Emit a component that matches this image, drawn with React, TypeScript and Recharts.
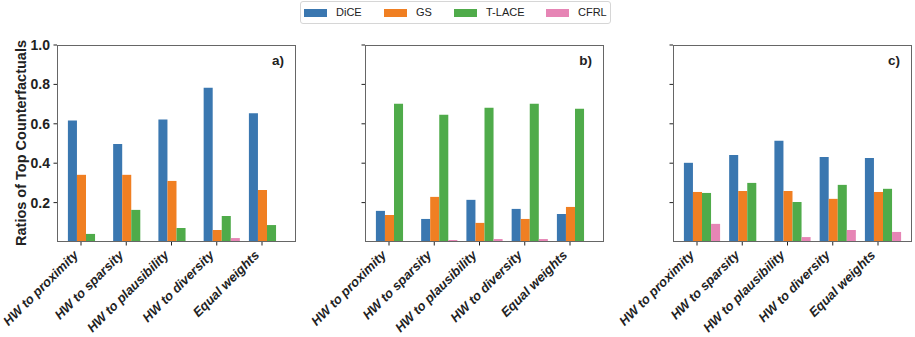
import React from "react";
import { Bar, BarChart, XAxis, YAxis } from "recharts";

const categories = ["HW to proximity", "HW to sparsity", "HW to plausibility", "HW to diversity", "Equal weights"];
const methods = ["DiCE", "GS", "T-LACE", "CFRL"];
const colors = ["#3a77b0", "#f07f22", "#4fab4a", "#e685b5"];
const yTicks = [0.2, 0.4, 0.6, 0.8, 1.0];

// panel a)
const diceA = [0.617, 0.498, 0.622, 0.783, 0.653];
const gsA = [0.341, 0.341, 0.31, 0.061, 0.264];
const tlaceA = [0.041, 0.163, 0.071, 0.132, 0.086];
const cfrlA = [0.003, 0.002, 0.002, 0.02, 0.002];

// panel b)
const diceB = [0.158, 0.117, 0.214, 0.168, 0.142];
const gsB = [0.137, 0.229, 0.097, 0.117, 0.178];
const tlaceB = [0.702, 0.646, 0.681, 0.702, 0.676];
const cfrlB = [0.003, 0.01, 0.015, 0.015, 0.003];

// panel c)
const diceC = [0.402, 0.442, 0.514, 0.432, 0.427];
const gsC = [0.254, 0.259, 0.259, 0.219, 0.254];
const tlaceC = [0.249, 0.3, 0.203, 0.29, 0.27];
const cfrlC = [0.092, 0.003, 0.025, 0.061, 0.051];

const FONT = "'Liberation Sans', Arial, Helvetica, sans-serif";
const PLOT_LEFT = 57;
const PLOT_TOP = 45;
const PLOT_W = 239;
const PLOT_H = 197;
const BAND = 45.25;
const TICK_SHIFT = BAND * 0.1;

function toRows(series: number[][]) {
  return categories.map((name, i) => ({
    name,
    DiCE: series[0][i],
    GS: series[1][i],
    "T-LACE": series[2][i],
    CFRL: series[3][i],
  }));
}

function XTick({ x, y, payload }: any) {
  const tx = x - TICK_SHIFT;
  const ax = tx - 2;
  const ay = y + 14;
  return (
    <g>
      <line x1={tx} y1={y} x2={tx} y2={y + 3.5} stroke="#222" strokeWidth={1} />
      <text
        x={ax}
        y={ay}
        transform={`rotate(-45 ${ax} ${ay})`}
        textAnchor="end"
        fontFamily={FONT}
        fontSize={13}
        fontWeight="bold"
        fontStyle="italic"
        fill="#222"
      >
        {payload.value}
      </text>
    </g>
  );
}

function Panel({ left, label, series, showLabels }: { left: number; label: string; series: number[][]; showLabels: boolean }) {
  const data = toRows(series);
  const chartW = PLOT_LEFT + PLOT_W + 3;
  return (
    <div style={{ position: "absolute", left, top: 0 }}>
      <BarChart
        width={chartW}
        height={337}
        data={data}
        barGap={0}
        barSize={BAND * 0.2}
        margin={{ top: PLOT_TOP, right: 3, left: PLOT_LEFT - 40, bottom: 337 - PLOT_TOP - PLOT_H - 30 }}
      >
        <XAxis
          dataKey="name"
          height={30}
          axisLine={false}
          tickLine={false}
          tickSize={0}
          tickMargin={0}
          interval={0}
          padding={{ left: 5.9, right: 6.85 }}
          tick={<XTick />}
        />
        <YAxis
          width={40}
          domain={[0, 1]}
          ticks={yTicks}
          allowDataOverflow
          axisLine={false}
          tickSize={3.5}
          tickMargin={3.5}
          tickLine={{ stroke: "#222" }}
          tickFormatter={(v: number) => (showLabels ? v.toFixed(1) : "")}
          tick={{ fontFamily: FONT, fontSize: 14, fontWeight: "bold", fill: "#222" }}
        />
        {methods.map((m, i) => (
          <Bar key={m} dataKey={m} fill={colors[i]} isAnimationActive={false} />
        ))}
      </BarChart>
      <div
        style={{
          position: "absolute",
          left: PLOT_LEFT,
          top: PLOT_TOP,
          width: PLOT_W,
          height: PLOT_H,
          boxSizing: "border-box",
          border: "1.2px solid #666",
          pointerEvents: "none",
        }}
      />
      <div
        style={{
          position: "absolute",
          right: 3 + 12,
          top: 53,
          fontFamily: FONT,
          fontSize: 13.5,
          fontWeight: "bold",
          color: "#222",
        }}
      >
        {label}
      </div>
    </div>
  );
}

export default function App() {
  return (
    <div style={{ position: "absolute", left: 0, top: 0, width: 915, height: 337, background: "#fff", fontFamily: FONT }}>
      <div
        style={{
          position: "absolute",
          left: 300,
          top: 1,
          width: 311,
          height: 23,
          boxSizing: "border-box",
          border: "1px solid #d6d6d6",
          borderRadius: 3,
        }}
      >
        {methods.map((m, i) => (
          <div key={m} style={{ position: "absolute", left: [3, 83, 153, 245][i], top: 4, display: "flex", alignItems: "center" }}>
            <span style={{ display: "inline-block", width: 23, height: 8, background: colors[i] }} />
            <span style={{ marginLeft: 9, fontSize: 11, color: "#222", lineHeight: "13px" }}>{m}</span>
          </div>
        ))}
      </div>
      <div
        style={{
          position: "absolute",
          left: 21,
          top: 143,
          transform: "translate(-50%, -50%) rotate(-90deg)",
          whiteSpace: "nowrap",
          fontSize: 14.5,
          fontWeight: "bold",
          color: "#222",
        }}
      >
        Ratios of Top Counterfactuals
      </div>
      <Panel left={0} label="a)" series={[diceA, gsA, tlaceA, cfrlA]} showLabels={true} />
      <Panel left={308} label="b)" series={[diceB, gsB, tlaceB, cfrlB]} showLabels={false} />
      <Panel left={616} label="c)" series={[diceC, gsC, tlaceC, cfrlC]} showLabels={false} />
    </div>
  );
}
